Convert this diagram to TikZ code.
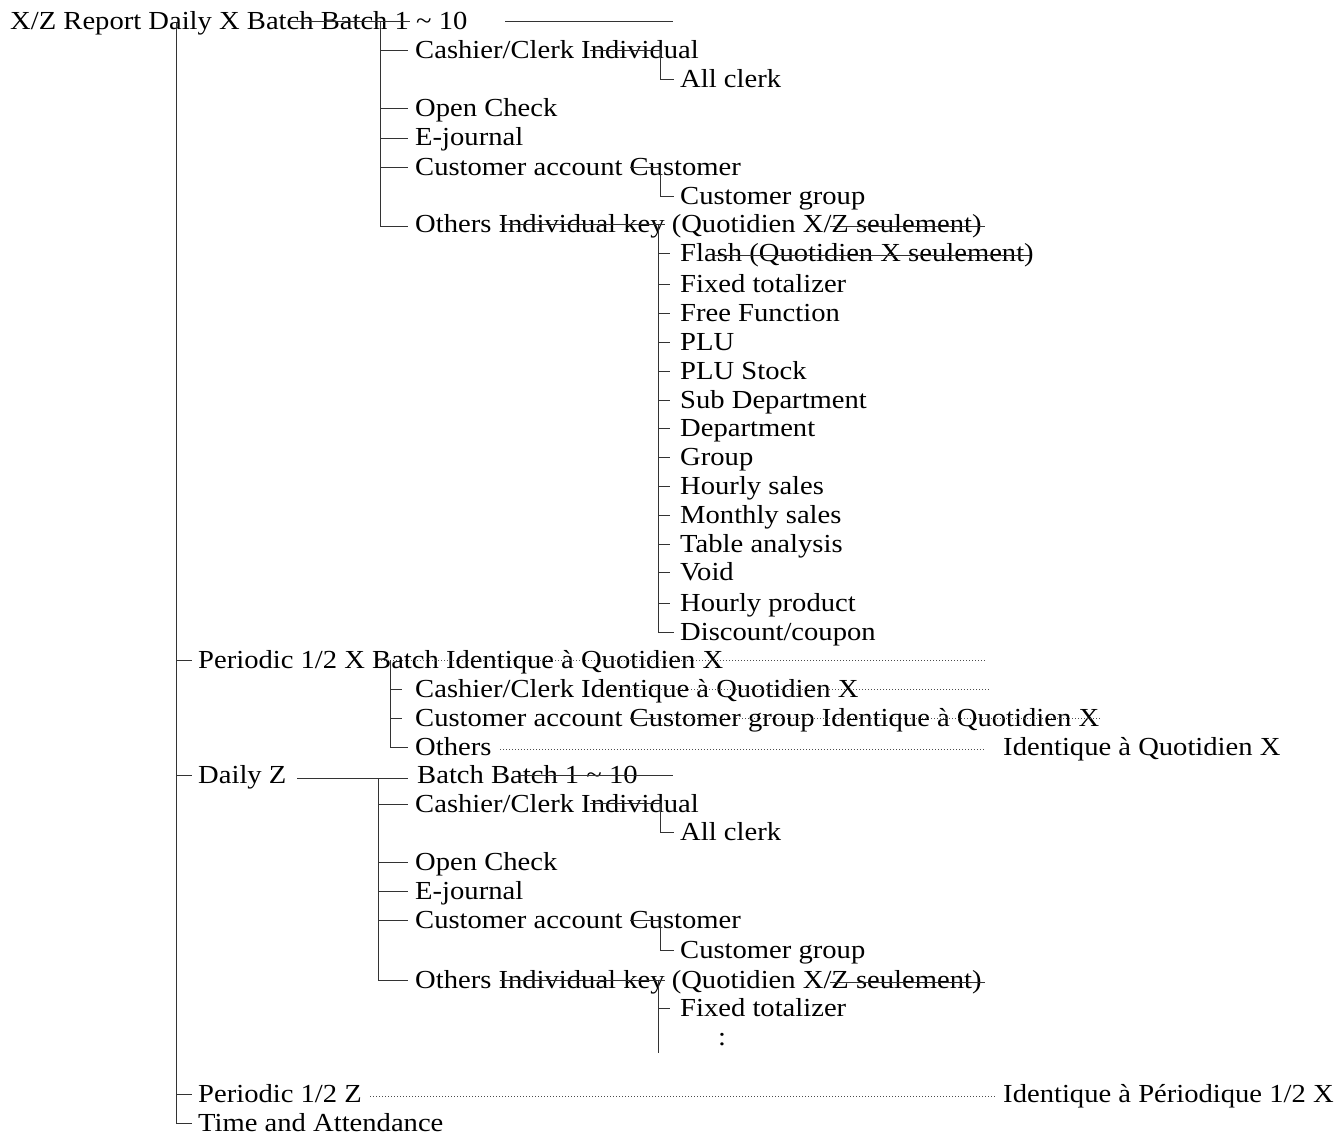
\documentclass[tikz,border=0pt]{standalone}
\usepackage{fontspec}
\setmainfont{Liberation Serif}
\begin{document}
\begin{tikzpicture}[x=1pt,y=-1pt,
  txt/.style={anchor=base west,inner sep=0pt,font=\fontsize{26}{28}\selectfont,xscale=1.1},
  ln/.style={line width=1pt,black!80},
  dt/.style={line width=1pt,black!70,dotted}]
\useasboundingbox (0,0) rectangle (1343,1137);
\newcommand\T[4]{\node[txt] (#1) at (#2,#3+8) {#4};}
% top
\T{root}{10}{22}{X/Z Report Daily X Batch Batch 1 \~{} 10}
\T{a1}{415}{51}{Cashier/Clerk Individual}
\T{a1a}{680}{80}{All clerk}
\T{a2}{415}{109}{Open Check}
\T{a3}{415}{138}{E-journal}
\T{a4}{415}{167}{Customer account Customer}
\T{a4a}{680}{196}{Customer group}
\T{a5}{415}{224}{Others Individual key (Quotidien X/Z seulement)}
\foreach \n/\y/\t in {b1/253/{Flash (Quotidien X seulement)},b2/284/Fixed totalizer,b3/313/Free Function,b4/342/PLU,b5/371/PLU Stock,b6/400/Sub Department,b7/428/Department,b8/457/Group,b9/486/Hourly sales,b10/515/Monthly sales,b11/544/Table analysis,b12/572/Void,b13/603/Hourly product,b14/632/{Discount/coupon}}
  {\node[txt] (\n) at (680,\y+8) {\t}; \draw[ln] (658,\y) -- (670,\y);}
\draw[ln] (505,22) -- (673,22);
\draw[ln] (290,22) -- (410,22);
\draw[ln] (380,22) -- (380,226) -- (408,226);
\foreach \y in {51,109,138,167} \draw[ln] (380,\y) -- (408,\y);
\draw[ln] (590,51) -- (660,51) -- (660,80) -- (674,80);
\draw[ln] (630,167) -- (660,167) -- (660,196) -- (674,196);
\draw[ln] (500,224) -- (665,224);
\draw[ln] (830,226) -- (985,226);
\draw[ln] (715,255) -- (1030,255);
\draw[ln] (658,224) -- (658,632) -- (674,632);
% main trunk
\draw[ln] (176,22) -- (176,1123) -- (192,1123);
\foreach \y in {660,775,1094} \draw[ln] (176,\y) -- (192,\y);
% periodic X
\T{p}{198}{660}{Periodic 1/2 X Batch Identique à Quotidien X}
\T{p1}{415}{689}{Cashier/Clerk Identique à Quotidien X}
\T{p2}{415}{718}{Customer account Customer group Identique à Quotidien X}
\T{p3}{415}{747}{Others}
\T{p3b}{1003}{747}{Identique à Quotidien X}
\draw[dt] (375,660) -- (985,660);
\draw[dt] (610,689) -- (990,689);
\draw[ln] (630,718) -- (655,718);
\draw[dt] (655,718) -- (1100,718);
\draw[dt] (500,749) -- (985,749);
\draw[ln] (390,660) -- (390,747) -- (408,747);
\foreach \y in {689,718} \draw[ln] (390,\y) -- (402,\y);
% daily Z
\T{z}{198}{775}{Daily Z}
\T{z0}{417}{775}{Batch Batch 1 \~{} 10}
\T{z1}{415}{804}{Cashier/Clerk Individual}
\T{z1a}{680}{832}{All clerk}
\T{z2}{415}{862}{Open Check}
\T{z3}{415}{891}{E-journal}
\T{z4}{415}{920}{Customer account Customer}
\T{z4a}{680}{950}{Customer group}
\T{z5}{415}{980}{Others Individual key (Quotidien X/Z seulement)}
\T{z6}{680}{1008}{Fixed totalizer}
\T{z7}{718}{1037}{:}
\draw[ln] (297,778) -- (408,778);
\draw[ln] (520,775) -- (673,775);
\draw[ln] (378,778) -- (378,980) -- (408,980);
\foreach \y in {804,862,891,920} \draw[ln] (378,\y) -- (408,\y);
\draw[ln] (590,803) -- (660,803) -- (660,832) -- (674,832);
\draw[ln] (630,920) -- (660,920) -- (660,950) -- (674,950);
\draw[ln] (500,980) -- (665,980);
\draw[ln] (830,982) -- (985,982);
\draw[ln] (658,980) -- (658,1053);
\draw[ln] (658,1008) -- (670,1008);
% periodic Z, T&A
\T{pz}{198}{1094}{Periodic 1/2 Z}
\T{pzb}{1003}{1094}{Identique à Périodique 1/2 X}
\draw[dt] (370,1096) -- (995,1096);
\T{ta}{198}{1123}{Time and Attendance}
\end{tikzpicture}
\end{document}
